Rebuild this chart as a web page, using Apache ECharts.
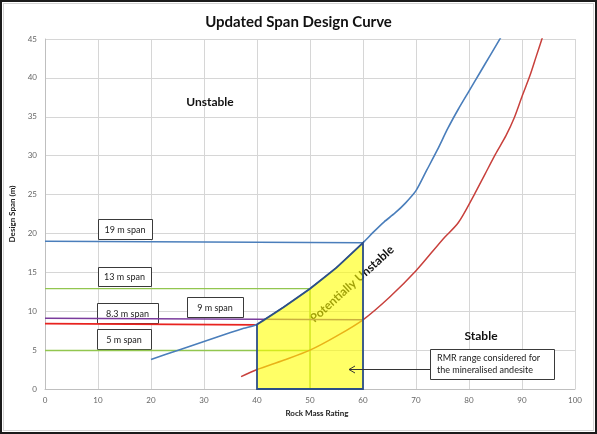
<!DOCTYPE html>
<html>
<head>
<meta charset="utf-8">
<script src="https://cdn.jsdelivr.net/npm/echarts@6/dist/echarts.min.js"></script>
<style>
html,body{margin:0;padding:0;background:#fff;}
#wrap{position:relative;width:597px;height:434px;}
#chart{position:absolute;left:0;top:0;width:597px;height:434px;}
#frame{position:absolute;left:0;top:0;width:597px;height:434px;box-sizing:border-box;border:2px solid #1b1b1b;pointer-events:none;}
#frame2{position:absolute;left:3px;top:3px;width:591px;height:428px;box-sizing:border-box;border:1px solid #d4d4d4;pointer-events:none;}
</style>
</head>
<body>
<div id="wrap"><div id="chart"></div><div id="frame"></div><div id="frame2"></div></div>
<script>
// Upper (blue) design curve
const blueRMR  = [20, 25, 30, 35, 37.5, 40, 45, 50, 55, 60, 62, 64, 66, 68, 70, 72, 74, 76, 78, 80, 82, 84, 86];
const blueSpan = [3.8, 4.95, 6.1, 7.25, 7.8, 8.3, 10.5, 12.9, 15.6, 18.8, 20.2, 21.5, 22.6, 23.9, 25.5, 28.1, 30.7, 33.5, 36.0, 38.3, 40.6, 42.9, 45.2];
// Lower (red) design curve
const redRMR  = [37, 40, 45, 50, 55, 60, 65, 70, 75, 78, 81, 83, 85, 87, 88.5, 90, 91.5, 92.7, 93.9];
const redSpan = [1.6, 2.5, 3.7, 5.0, 6.8, 8.9, 11.8, 15.2, 19.2, 21.4, 25.0, 27.6, 30.2, 32.6, 34.8, 37.6, 40.3, 42.8, 45.3];
// Span reference lines
const span19  = [[0, 19.0], [60, 18.8]];
const span13  = [[0, 12.9], [50, 12.9]];
const span9   = [[0, 9.1], [60, 8.9]];
const span83  = [[0, 8.4], [40, 8.25]];
const span5   = [[0, 4.95], [50, 4.95]];
const rmr50   = [[50, 0], [50, 12.9]];
// RMR range polygon
const rangeRMR  = [40, 40, 45, 50, 55, 60, 60];
const rangeSpan = [0, 8.3, 10.5, 12.9, 15.6, 18.8, 0];
// Axis ticks
const xTicks = [0, 10, 20, 30, 40, 50, 60, 70, 80, 90, 100];
const yTicks = [0, 5, 10, 15, 20, 25, 30, 35, 40, 45];

const FONT = 'Lato, "Open Sans", sans-serif';
const pair = (xs, ys) => xs.map((x, i) => [x, ys[i]]);

const chart = echarts.init(document.getElementById('chart'));

function lineSeries(data, color, width, smooth) {
  return {
    type: 'line', data: data, symbol: 'none', smooth: smooth || false, z: 3,
    lineStyle: {color: color, width: width || 1.5}, silent: true, clip: true
  };
}

function boxRect(x, y, w, h) {
  return {type: 'rect', z: 1, shape: {x: x + 0.5, y: y + 0.5, width: w, height: h},
          style: {fill: '#ffffff', stroke: '#3a3a3a', lineWidth: 1}};
}
function boxText(x, y, w, h, text) {
  return {type: 'text', z: 1, x: x + w / 2, y: y + h / 2 + 1,
          style: {text: text, font: '9px ' + FONT, fill: '#222', align: 'center', verticalAlign: 'middle'}};
}

const boxes = [
  [98, 219, 54, 20, '19 m span'],
  [98, 267, 53, 19, '13 m span'],
  [97, 303, 61, 20, '8.3 m span'],
  [187, 297, 56, 20, '9 m span'],
  [97, 329, 54, 20, '5 m span']
];

const graphics = [];
boxes.forEach(b => { graphics.push(boxRect(b[0], b[1], b[2], b[3])); graphics.push(boxText(b[0], b[1], b[2], b[3], b[4])); });
graphics.push(
  boxRect(430, 349, 124, 30),
  {type: 'text', z: 1, x: 437, y: 358, style: {text: 'RMR range considered for', font: '9px ' + FONT, fill: '#222', verticalAlign: 'middle'}},
  {type: 'text', z: 1, x: 437, y: 370, style: {text: 'the mineralised andesite', font: '9px ' + FONT, fill: '#222', verticalAlign: 'middle'}},
  {type: 'line', z: 10, shape: {x1: 430, y1: 369.5, x2: 349, y2: 369.5}, style: {stroke: '#333', lineWidth: 1}},
  {type: 'polyline', z: 10, shape: {points: [[355, 366], [349, 369.5], [355, 373]]}, style: {stroke: '#333', lineWidth: 1, fill: null}},
  {type: 'text', z: 1, x: 210, y: 102, style: {text: 'Unstable', font: 'bold 12px ' + FONT, fill: '#111', align: 'center', verticalAlign: 'middle'}},
  {type: 'text', z: 1, x: 481, y: 336, style: {text: 'Stable', font: 'bold 12px ' + FONT, fill: '#111', align: 'center', verticalAlign: 'middle'}},
  {type: 'text', z: 1, x: 352, y: 284, rotation: 42 * Math.PI / 180, style: {text: 'Potentially Unstable', font: 'bold 12px ' + FONT, fill: '#111', align: 'center', verticalAlign: 'middle'}},
  {type: 'text', z: 1, x: 317, y: 413, style: {text: 'Rock Mass Rating', font: 'bold 8px ' + FONT, fill: '#222', align: 'center', verticalAlign: 'middle'}}
);

const option = {
  animation: false,
  title: {
    text: 'Updated Span Design Curve', left: 'center', top: 10,
    textStyle: {fontFamily: FONT, fontWeight: 'bold', fontSize: 15, color: '#111'}
  },
  grid: {left: 45, right: 22, top: 39, bottom: 45},
  xAxis: {
    type: 'value', min: 0, max: 100, interval: 10,
    axisLine: {show: true, lineStyle: {color: '#bfbfbf'}},
    axisTick: {show: false},
    axisLabel: {color: '#666', fontSize: 8, fontFamily: FONT, margin: 7},
    splitLine: {show: true, lineStyle: {color: '#d6d6d6', width: 1}}
  },
  yAxis: {
    type: 'value', min: 0, max: 45, interval: 5,
    name: 'Design Span (m)', nameLocation: 'middle', nameGap: 22,
    nameTextStyle: {fontFamily: FONT, fontWeight: 'bold', fontSize: 8, color: '#222'},
    axisLine: {show: true, lineStyle: {color: '#bfbfbf'}},
    axisTick: {show: false},
    axisLabel: {color: '#666', fontSize: 8, fontFamily: FONT, margin: 8},
    splitLine: {show: true, lineStyle: {color: '#d6d6d6', width: 1}}
  },
  series: [
    lineSeries(span19, '#4a7ebb', 1.4),
    lineSeries(span13, '#92c64f', 1.4),
    lineSeries(span5, '#92c64f', 1.4),
    lineSeries(rmr50, '#92c64f', 1.4),
    lineSeries(span83, '#e8231f', 1.6),
    lineSeries(span9, '#7a3b9c', 1.6),
    lineSeries(pair(blueRMR, blueSpan), '#4a7ebb', 1.6, 0.25),
    lineSeries(pair(redRMR, redSpan), '#c8403c', 1.5, 0.3),
    {
      type: 'custom', z: 5, silent: true, data: [0],
      renderItem: function (params, api) {
        const pts = rangeRMR.map((x, i) => api.coord([x, rangeSpan[i]]));
        return {
          type: 'polygon', shape: {points: pts},
          style: {fill: 'rgba(255,255,0,0.6)', stroke: '#2d4f88', lineWidth: 1.8}
        };
      }
    }
  ],
  graphic: graphics
};
chart.setOption(option);
</script>
</body>
</html>
